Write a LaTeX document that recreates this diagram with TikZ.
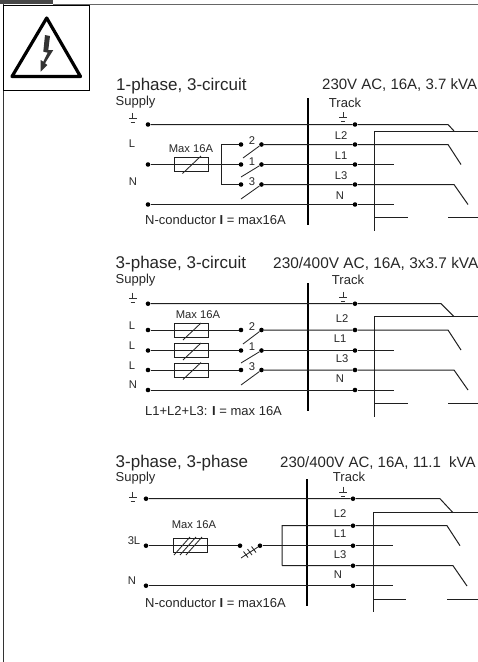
\documentclass[tikz,border=0pt]{standalone}
\usepackage{fontspec}
\setmainfont{Liberation Sans}
\tikzset{
  x=1pt,y=-1pt,
  wire/.style={line width=1pt,black!88},
  thinw/.style={line width=0.85pt,black!85},
  barw/.style={line width=1.6pt,black},
  dotn/.style={circle,fill=black,inner sep=0pt,minimum size=4.6pt},
  fuse/.style={draw=black!88,line width=0.9pt,minimum width=34pt,minimum height=13.5pt,inner sep=0pt},
  ttl/.style={anchor=west,inner sep=0pt,font=\fontsize{17}{19}\selectfont,text=black!85},
  rtl/.style={anchor=west,inner sep=0pt,font=\fontsize{15.4}{17}\selectfont,text=black!85},
  rts/.style={anchor=west,inner sep=0pt,font=\fontsize{15}{17}\selectfont,text=black!85},
  lbl/.style={inner sep=0pt,font=\fontsize{13}{15}\selectfont,text=black!85},
  sml/.style={inner sep=0pt,font=\fontsize{11.2}{13}\selectfont,text=black!85},
  gnd/.pic={\draw[line width=0.8pt,black!80] (0,-5.5)--(0,0) (-3.8,0)--(3.8,0) (-2.2,4)--(2.2,4);}
}
\begin{document}
\begin{tikzpicture}
\useasboundingbox (0,0) rectangle (478,662);
% header
\fill[black!72] (0,0) rectangle (53,4);
\draw[line width=0.6pt,black!60] (53,4.3) -- (478,4.3);
\draw[line width=1pt,black!80] (3.5,4) -- (3.5,662);
\node[draw=black,line width=1pt,minimum width=85.5pt,minimum height=85pt,inner sep=0pt] (warnbox) at (46.25,47.5) {};
\draw[line width=3.2pt,line join=round,black] (46.7,18) -- (80.5,76.5) -- (12,76.5) -- cycle;
\fill[black!80] (45,35) -- (50,36) -- (48.3,50) -- (53.3,50) -- (45,63.3) -- (47.3,65) -- (40.7,71.7) -- (40.7,60) -- (43.3,61.7) -- (47.7,52.7) -- (43.3,51.7) -- cycle;

% ---------- diagram 1 ----------
\node[ttl] (t1) at (116,86) {1-phase, 3-circuit};
\node[rts] (r1) at (322,85.5) {230V AC, 16A, 3.7 kVA};
\node[lbl,anchor=west] (s1) at (115.5,102.5) {Supply};
\node[lbl] (k1) at (345,102.5) {Track};
\pic at (132.7,118.3) {gnd};
\pic at (343,117.5) {gnd};
\node[sml] (la1) at (132,144) {L};
\node[sml] (la2) at (133,182) {N};
\node[sml] (m1) at (191,149) {Max 16A};
\node[sml] (b1) at (341,136) {L2};
\node[sml] (b2) at (341,156) {L1};
\node[sml] (b3) at (341,175.5) {L3};
\node[sml] (b4) at (340,196) {N};
\node[sml] (n1) at (252,140.5) {2};
\node[sml] (n2) at (252,161.5) {1};
\node[sml] (n3) at (252,181.5) {3};
\node[lbl,anchor=west] (c1) at (145,220) {N-conductor \textbf{I} = max16A};
\draw[barw] (308,98) coordinate (u1) -- (308,225) coordinate (u2);
\node[dotn] (ag) at (148,124.5) {};
\node[dotn] (al) at (148,164.5) {};
\node[dotn] (an) at (148,204.5) {};
\node[dotn] (as1) at (241,144.5) {};
\node[dotn] (as2) at (241,164.5) {};
\node[dotn] (as3) at (241,184.5) {};
\node[dotn] (ab1) at (261.5,144.5) {};
\node[dotn] (ab2) at (261.5,164.5) {};
\node[dotn] (ab3) at (261.5,184.5) {};
\node[dotn] (at0) at (355,124.5) {};
\node[dotn] (at1) at (355,144.5) {};
\node[dotn] (at2) at (355,164.5) {};
\node[dotn] (at3) at (355,184.5) {};
\node[dotn] (at4) at (355,204.5) {};
\draw[wire] (ag) -- (at0) -- (448,124.5) -- (454,131);
\draw[wire] (al) -- (as2);
\draw[wire] (ab1) -- (at1) -- (448,144.5) -- (461,164.5);
\draw[wire] (ab2) -- (at2) -- (394,164.5);
\draw[wire] (ab3) -- (at3) -- (454,184.5) -- (468,204.5);
\draw[wire] (an) -- (at4) -- (394,204.5);
\draw[wire] (as1) -- (221,144.5) -- (221,184.5) -- (as3);
\node[fuse] (af) at (191,164.5) {};
\draw[thinw] (182.5,173.5) -- (201,156);
\draw[thinw] (243,158) -- (ab1);
\draw[thinw] (241,177) -- (ab2);
\draw[thinw] (241,199) -- (ab3);
\draw[wire] (478,131.5) -- (374,131.5) -- (374,231);
\draw[wire] (374,217.5) -- (408,217.5) (448,217.5) -- (478,217.5);

% ---------- diagram 2 ----------
\node[ttl] (t2) at (115.5,264) {3-phase, 3-circuit};
\node[rtl] (r2) at (273,264) {230/400V AC, 16A, 3x3.7 kVA};
\node[lbl,anchor=west] (s2) at (115.5,280) {Supply};
\node[lbl] (k2) at (348,280) {Track};
\pic at (132.7,298) {gnd};
\pic at (343,297) {gnd};
\node[sml] (lb1) at (132,326) {L};
\node[sml] (lb2) at (132,346) {L};
\node[sml] (lb3) at (132,366) {L};
\node[sml] (lb4) at (133,385) {N};
\node[sml] (m2) at (198,315) {Max 16A};
\node[sml] (d1) at (342,318.5) {L2};
\node[sml] (d2) at (340,339) {L1};
\node[sml] (d3) at (342,358.5) {L3};
\node[sml] (d4) at (340,378.5) {N};
\node[sml] (p1) at (252,327) {2};
\node[sml] (p2) at (252,347) {1};
\node[sml] (p3) at (252,367) {3};
\node[lbl,anchor=west] (c2) at (145,411) {L1+L2+L3: \textbf{I} = max 16A};
\draw[barw] (308,283) coordinate (v1) -- (308,411) coordinate (v2);
\node[dotn] (bg) at (148,303.7) {};
\node[dotn] (bl1) at (148,330) {};
\node[dotn] (bl2) at (148,350.5) {};
\node[dotn] (bl3) at (148,370) {};
\node[dotn] (bn) at (148,390) {};
\node[dotn] (bs1) at (241,330) {};
\node[dotn] (bs2) at (241,350.5) {};
\node[dotn] (bs3) at (241,370) {};
\node[dotn] (bb1) at (261.5,330) {};
\node[dotn] (bb2) at (261.5,350.5) {};
\node[dotn] (bb3) at (261.5,370) {};
\node[dotn] (bt0) at (355,303.7) {};
\node[dotn] (bt1) at (355,330) {};
\node[dotn] (bt2) at (355,350.5) {};
\node[dotn] (bt3) at (355,370) {};
\node[dotn] (bt4) at (355,390) {};
\draw[wire] (bg) -- (bt0) -- (441,303.7) -- (454,316.7);
\draw[wire] (bl1) -- (bs1);
\draw[wire] (bl2) -- (bs2);
\draw[wire] (bl3) -- (bs3);
\draw[wire] (bb1) -- (bt1) -- (448,330) -- (461,350);
\draw[wire] (bb2) -- (bt2) -- (394,350.5);
\draw[wire] (bb3) -- (bt3) -- (454,370) -- (468,390);
\draw[wire] (bn) -- (bt4) -- (394,390);
\node[fuse] (bf1) at (191,330.5) {};
\node[fuse] (bf2) at (191,350.5) {};
\node[fuse] (bf3) at (191,370.5) {};
\draw[thinw] (183,340) -- (201,323);
\draw[thinw] (183,360) -- (201,343);
\draw[thinw] (183,379.5) -- (201,362.5);
\draw[thinw] (243,344) -- (bb1);
\draw[thinw] (241,363) -- (bb2);
\draw[thinw] (241,385) -- (bb3);
\draw[wire] (478,316.7) -- (374,316.7) -- (374,417);
\draw[wire] (374,403.7) -- (408,403.7) (448,403.7) -- (478,403.7);

% ---------- diagram 3 ----------
\node[ttl] (t3) at (115.5,463) {3-phase, 3-phase};
\node[rts] (r3) at (280,463) {230/400V AC, 16A, 11.1\ \ kVA};
\node[lbl,anchor=west] (s3) at (115.5,478) {Supply};
\node[lbl] (k3) at (349,477) {Track};
\pic at (132.7,497) {gnd};
\pic at (343,492) {gnd};
\node[sml] (lc1) at (134,541) {3L};
\node[sml] (lc2) at (132,581) {N};
\node[sml] (m3) at (194,525) {Max 16A};
\node[sml] (e1) at (340,514) {L2};
\node[sml] (e2) at (340,534) {L1};
\node[sml] (e3) at (340,555) {L3};
\node[sml] (e4) at (338,574.5) {N};
\node[lbl,anchor=west] (c3) at (145,603) {N-conductor \textbf{I} = max16A};
\draw[barw] (307,479) coordinate (w1) -- (307,606) coordinate (w2);
\node[dotn] (cg) at (146,498.7) {};
\node[dotn] (cl) at (146,545.7) {};
\node[dotn] (cn) at (146,585.7) {};
\node[dotn] (cs) at (240,545.7) {};
\node[dotn] (cb) at (260,545.7) {};
\node[dotn] (ct0) at (353,498.7) {};
\node[dotn] (ct1) at (353,525.7) {};
\node[dotn] (ct2) at (353,545.7) {};
\node[dotn] (ct3) at (353,565.7) {};
\node[dotn] (ct4) at (353,585.7) {};
\draw[wire] (cg) -- (ct0) -- (440,498.7) -- (453,512.7);
\draw[wire] (cl) -- (cs);
\draw[wire] (cb) -- (ct2) -- (393,545.7);
\draw[wire] (282,565.7) -- (282,525.7) -- (ct1) -- (447,525.7) -- (460,545.7);
\draw[wire] (282,565.7) -- (ct3) -- (453,565.7) -- (467,586);
\draw[wire] (cn) -- (ct4) -- (393,585.7);
\node[fuse,minimum height=14pt] (cf) at (190,545.7) {};
\draw[thinw] (174,555) -- (190,537);
\draw[thinw] (180,555) -- (196,537);
\draw[thinw] (186,555) -- (202,537);
\draw[thinw] (241,558) -- (cb);
\draw[thinw] (243.5,551.5) -- (248,557.5);
\draw[thinw] (247.5,549) -- (252,555);
\draw[thinw] (251.5,546.5) -- (256,552.5);
\draw[wire] (478,512.7) -- (373,512.7) -- (373,612);
\draw[wire] (373,599) -- (406,599) (447,599) -- (478,599);
\end{tikzpicture}
\end{document}
